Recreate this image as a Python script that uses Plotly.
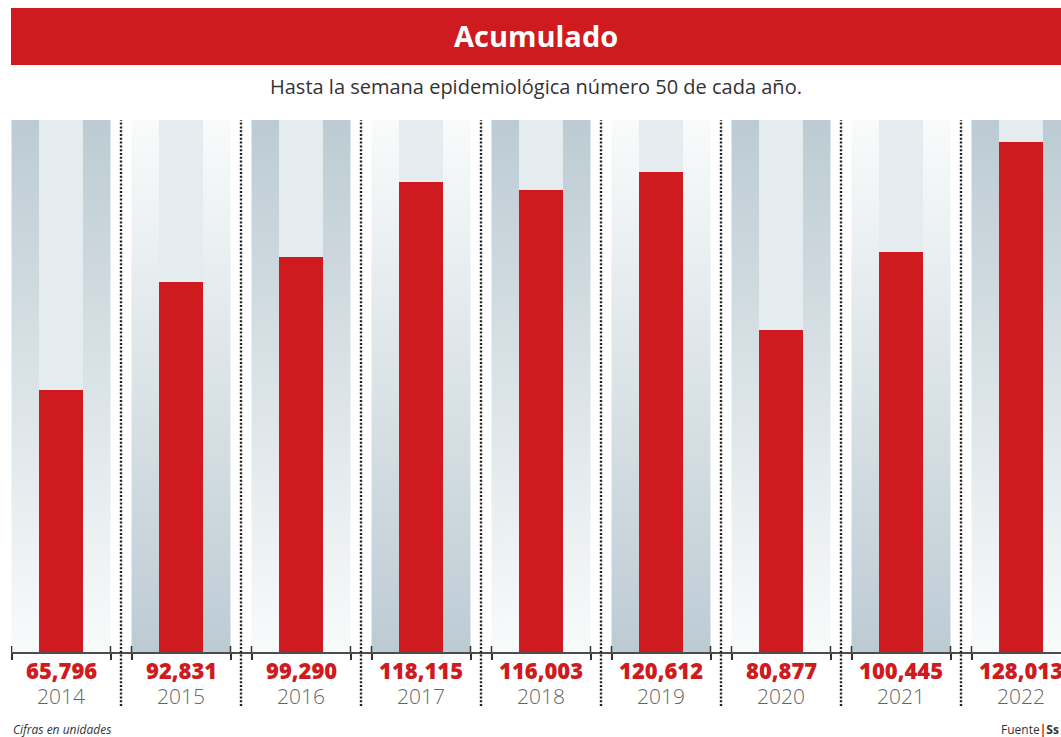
import plotly.graph_objects as go

# ---- data ----
years = ["2014", "2015", "2016", "2017", "2018", "2019", "2020", "2021", "2022"]
values = [65796, 92831, 99290, 118115, 116003, 120612, 80877, 100445, 128013]

title_text = "Acumulado"
subtitle_text = "Hasta la semana epidemiológica número 50 de cada año."
note_text = "Cifras en unidades"
source_text = "Fuente<span style='color:#cf1a20'><b>|</b></span><b>Ss</b>"

# ---- style / layout constants ----
RED = "#cf1a20"
GREY_BAND = "#bccbd3"
WHITE_BAND = "#f9fbfb"
INNER = "#e5ecf0"
Y_MAX = 133600
X_RANGE = [-0.41667, 8.33333]
OUTER_HALF = 0.4125
INNER_HALF = 0.18333
W, H = 1061, 737
ML, MR, MT, MB = 11, 0, 120, 85
PLOT_H = H - MT - MB


def py(pix):
    """pixel row -> paper y"""
    return (H - MB - pix) / PLOT_H


n = len(years)
xs = list(range(n))

fig = go.Figure()

# side strips of each panel (gradient backgrounds)
for i in xs:
    c = i
    if i % 2 == 0:
        cs = [[0, WHITE_BAND], [1, GREY_BAND]]
    else:
        cs = [[0, GREY_BAND], [1, WHITE_BAND]]
    px_ = [c - OUTER_HALF, c - INNER_HALF, c - INNER_HALF, c - OUTER_HALF, c - OUTER_HALF, None,
           c + INNER_HALF, c + OUTER_HALF, c + OUTER_HALF, c + INNER_HALF, c + INNER_HALF]
    py_ = [0, 0, Y_MAX, Y_MAX, 0, None, 0, 0, Y_MAX, Y_MAX, 0]
    fig.add_trace(go.Scatter(
        x=px_, y=py_, mode="lines", fill="toself",
        line=dict(width=0), hoverinfo="skip", showlegend=False,
        fillgradient=dict(type="vertical", colorscale=cs, start=0, stop=Y_MAX),
    ))

# inner light column
fig.add_trace(go.Bar(x=xs, y=[Y_MAX] * n, width=2 * INNER_HALF,
                     marker=dict(color=INNER, line=dict(width=0)),
                     hoverinfo="skip", showlegend=False))
# red value bars
fig.add_trace(go.Bar(x=xs, y=values, width=2 * INNER_HALF,
                     marker=dict(color=RED, line=dict(width=0)),
                     showlegend=False,
                     hovertemplate="%{y:,}<extra></extra>"))

shapes = []
# header band
shapes.append(dict(type="rect", xref="paper", yref="paper", x0=0, x1=1,
                   y0=py(65), y1=py(8), fillcolor=RED, line=dict(width=0), layer="below"))
# dotted separators
for i in range(n - 1):
    shapes.append(dict(type="line", xref="x", yref="paper", x0=i + 0.5, x1=i + 0.5,
                       y0=py(706), y1=1.0, line=dict(color="#222", width=2.4, dash="2px,1.8px")))
# inner part of ticks
edges = []
for i in xs:
    edges += [i - OUTER_HALF, i + OUTER_HALF]
for e in edges:
    shapes.append(dict(type="line", xref="x", yref="paper", x0=e, x1=e,
                       y0=0, y1=6 / PLOT_H, line=dict(color="#333", width=1.5)))

annotations = [
    dict(text=title_text, xref="paper", yref="paper", x=0.5, y=py(35), showarrow=False,
         xanchor="center", yanchor="middle",
         font=dict(family="Open Sans", size=29, color="white", weight="bold")),
    dict(text=subtitle_text, xref="paper", yref="paper", x=0.5, y=py(86), showarrow=False,
         xanchor="center", yanchor="middle",
         font=dict(family="Open Sans", size=20, color="#333333")),
    dict(text=note_text, xref="paper", yref="paper", x=0, y=py(729), showarrow=False,
         xanchor="left", yanchor="middle",
         font=dict(family="Open Sans", size=12, color="#333333", style="italic")),
    dict(text=source_text, xref="paper", yref="paper", x=1, y=py(729), showarrow=False,
         xanchor="right", yanchor="middle",
         font=dict(family="Open Sans", size=12, color="#333333")),
]
for i, (yr, v) in enumerate(zip(years, values)):
    annotations.append(dict(text=f"{v:,}", xref="x", yref="paper", x=i, y=py(670),
                            showarrow=False, xanchor="center", yanchor="middle",
                            font=dict(family="Open Sans", size=22, color=RED, weight=800)))
    annotations.append(dict(text=yr, xref="x", yref="paper", x=i, y=py(696),
                            showarrow=False, xanchor="center", yanchor="middle",
                            font=dict(family="Open Sans", size=21, color="#666666", weight=300)))

fig.update_layout(
    width=W, height=H,
    margin=dict(l=ML, r=MR, t=MT, b=MB, pad=0),
    paper_bgcolor="white", plot_bgcolor="white",
    barmode="overlay", bargap=0,
    showlegend=False,
    shapes=shapes, annotations=annotations,
    xaxis=dict(range=X_RANGE, showgrid=False, zeroline=False, showticklabels=False,
               showline=True, linecolor="#4d4d4d", linewidth=2,
               ticks="outside", tickvals=edges, ticklen=6, tickwidth=1.5, tickcolor="#333",
               fixedrange=True),
    yaxis=dict(range=[0, Y_MAX], visible=False, fixedrange=True),
)

fig.write_html("out.html", config={"displayModeBar": False},
               post_script="document.body.style.margin='0';document.body.style.overflow='hidden';")
